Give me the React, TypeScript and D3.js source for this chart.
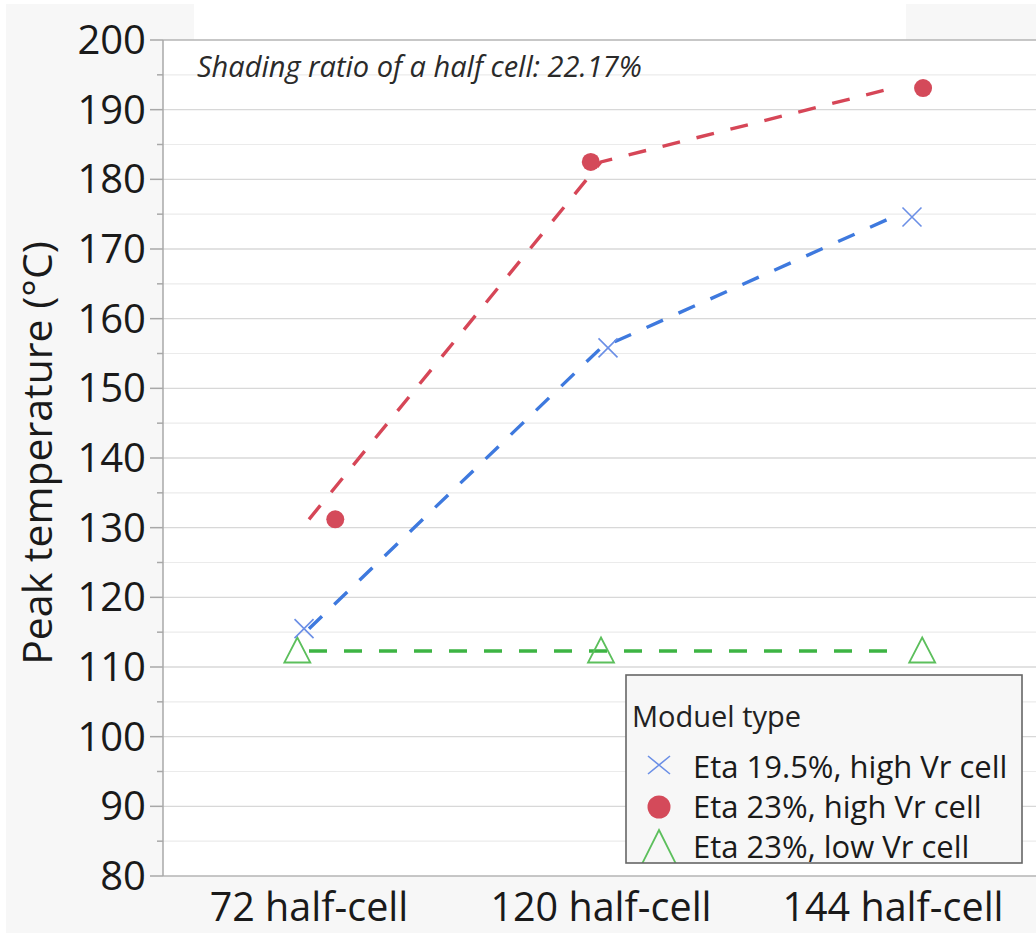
import React from "react";
import * as d3 from "d3";

const categories = ["72 half-cell", "120 half-cell", "144 half-cell"];
const seriesNames = ["Eta 19.5%, high Vr cell", "Eta 23%, high Vr cell", "Eta 23%, low Vr cell"];
const eta195High = [115.5, 155.8, 174.6];
const eta23High = [131.2, 182.5, 193.1];
const eta23Low = [112.3, 112.3, 112.3];
// horizontal jitter of the point markers, as a fraction of the category band
const jitter195High = [-0.017, 0.024, 0.065];
const jitter23High = [0.09, -0.035, 0.103];
const jitter23Low = [-0.04, 0, 0.1];
const yTicksMajor = [80, 90, 100, 110, 120, 130, 140, 150, 160, 170, 180, 190, 200];
const yTicksMinor = [85, 95, 105, 115, 125, 135, 145, 155, 165, 175, 185, 195];
const yTitle = "Peak temperature (°C)";
const annotation = "Shading ratio of a half cell: 22.17%";
const legendTitle = "Moduel type";

const W = 1036;
const H = 933;
const FONT = "'Open Sans', 'Noto Sans', sans-serif";

export default function App() {
  const left = 163, right = 1039, top = 40, bottom = 876;
  const x = d3.scaleBand<string>().domain(categories).range([left, right]).paddingInner(0).paddingOuter(0);
  const y = d3.scaleLinear().domain([80, 200]).range([bottom, top]);
  const cx = (c: string) => (x(c) as number) + x.bandwidth() / 2;
  const line = d3.line<number>().x((_, i) => cx(categories[i])).y((v) => y(v));

  const colors = { blue: "#3e79de", red: "#d64657", green: "#3db443" };
  const markColors = { blue: "#6b8fe6", red: "#d44a5a", green: "#5cbf5c" };

  const xMark = (px: number, py: number, hw: number, hh: number, key: string) => (
    <path key={key} d={`M${px - hw},${py - hh}L${px + hw},${py + hh}M${px - hw},${py + hh}L${px + hw},${py - hh}`}
      stroke={markColors.blue} strokeWidth={1.6} fill="none" />
  );
  const triMark = (px: number, py: number, w: number, h: number, key: string) => (
    <path key={key} d={`M${px},${py - h / 2}L${px + w / 2},${py + h / 2}L${px - w / 2},${py + h / 2}Z`}
      stroke={markColors.green} strokeWidth={1.8} fill="none" strokeLinejoin="miter" />
  );

  const legX = 626, legY = 675, legW = 396, legH = 188;
  const legBase = [778, 818, 858];

  return (
    <svg width={W} height={H} style={{ position: "absolute", left: 0, top: 0 }} fontFamily={FONT}>
      <rect x={0} y={0} width={W} height={H} fill="#ffffff" />
      <rect x={6} y={4} width={W - 6} height={H - 4} fill="#f7f7f7" />
      <rect x={194} y={0} width={712} height={top} fill="#ffffff" />
      <rect x={left} y={top} width={right - left} height={bottom - top} fill="#ffffff" />

      {yTicksMinor.map((t) => (
        <line key={"mg" + t} x1={left} x2={right} y1={y(t)} y2={y(t)} stroke="#ebebeb" strokeWidth={1.2} />
      ))}
      {yTicksMajor.filter((t) => t !== 80 && t !== 200).map((t) => (
        <line key={"Mg" + t} x1={left} x2={right} y1={y(t)} y2={y(t)} stroke="#d8d8d8" strokeWidth={1.4} />
      ))}
      <line x1={left} x2={right} y1={y(200)} y2={y(200)} stroke="#b4b4b4" strokeWidth={1.5} />
      <line x1={left} x2={right} y1={y(80)} y2={y(80)} stroke="#b4b4b4" strokeWidth={1.5} />
      <line x1={left} x2={left} y1={top} y2={bottom} stroke="#a8a8a8" strokeWidth={1.5} />

      {yTicksMajor.map((t) => (
        <g key={"t" + t}>
          <line x1={150} x2={left} y1={y(t)} y2={y(t)} stroke="#a8a8a8" strokeWidth={1.5} />
          <text x={146} y={y(t) + 14} textAnchor="end" fontSize={40} fill="#1a1a1a">{t}</text>
        </g>
      ))}
      {yTicksMinor.map((t) => (
        <line key={"mt" + t} x1={157} x2={left} y1={y(t)} y2={y(t)} stroke="#a8a8a8" strokeWidth={1.5} />
      ))}

      {categories.map((c) => (
        <text key={c} x={cx(c)} y={921} textAnchor="middle" fontSize={39.5} fill="#1a1a1a">{c}</text>
      ))}

      <text transform={`translate(52,${453}) rotate(-90)`} textAnchor="middle" fontSize={41} fill="#1a1a1a">{yTitle}</text>

      <text x={197} y={77} fontSize={29} fontStyle="italic" fill="#2a2a2a">{annotation}</text>

      <path d={line(eta23Low) || ""} fill="none" stroke={colors.green} strokeWidth={3.4} strokeDasharray="18,17" />
      <path d={line(eta195High) || ""} fill="none" stroke={colors.blue} strokeWidth={3.4} strokeDasharray="18,17" />
      <path d={line(eta23High) || ""} fill="none" stroke={colors.red} strokeWidth={3.4} strokeDasharray="18,17" />

      {eta23Low.map((v, i) => triMark(cx(categories[i]) + jitter23Low[i] * x.bandwidth(), y(v) - 1, 26, 25, "g" + i))}
      {eta195High.map((v, i) => xMark(cx(categories[i]) + jitter195High[i] * x.bandwidth(), y(v), 9.5, 9.5, "b" + i))}
      {eta23High.map((v, i) => (
        <circle key={"r" + i} cx={cx(categories[i]) + jitter23High[i] * x.bandwidth()} cy={y(v)} r={9} fill={markColors.red} />
      ))}

      <defs>
        <clipPath id="legclip">
          <rect x={legX} y={legY} width={legW} height={legH} />
        </clipPath>
      </defs>
      <rect x={legX} y={legY} width={legW} height={legH} fill="#f7f7f7" />
      <g clipPath="url(#legclip)">
        <text x={632} y={727} fontSize={29} fill="#222">{legendTitle}</text>
        {xMark(659, legBase[0] - 13, 11, 9, "lb")}
        <circle cx={659} cy={legBase[1] - 11} r={11.5} fill={markColors.red} />
        {triMark(659, legBase[2] - 10, 36, 36, "lg")}
        {seriesNames.map((s, i) => (
          <text key={s} x={693} y={legBase[i]} fontSize={31} fill="#1a1a1a">{s}</text>
        ))}
      </g>
      <rect x={legX} y={legY} width={legW} height={legH} fill="none" stroke="#666" strokeWidth={1.6} />
    </svg>
  );
}
